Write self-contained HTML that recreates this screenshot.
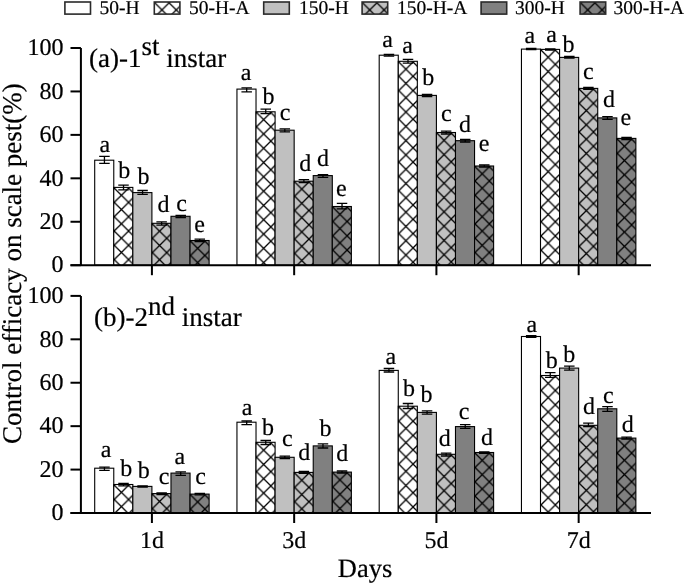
<!DOCTYPE html>
<html><head><meta charset="utf-8"><style>
html,body{margin:0;padding:0;background:#fff;width:685px;height:584px;overflow:hidden}
svg{will-change:transform}
svg text{text-rendering:geometricPrecision;font-family:"Liberation Serif", serif;fill:#000;stroke:#000;stroke-width:0.2px}
</style></head><body>
<svg width="685" height="584" viewBox="0 0 685 584" style="display:block">
<defs>
<pattern id="h1" patternUnits="userSpaceOnUse" x="154.80" y="2.80" width="14.3" height="14.3"><rect width="14.3" height="14.3" fill="#ffffff"/><path d="M0 0L14.3 14.3M14.3 0L0 14.3M-1 13.3L1 15.3M13.3 -1L15.3 1M-1 1L1 -1M13.3 15.3L15.3 13.3" stroke="#000" stroke-width="1.3" fill="none"/></pattern>
<pattern id="h2" patternUnits="userSpaceOnUse" x="362.60" y="2.80" width="14.3" height="14.3"><rect width="14.3" height="14.3" fill="#c0c0c0"/><path d="M0 0L14.3 14.3M14.3 0L0 14.3M-1 13.3L1 15.3M13.3 -1L15.3 1M-1 1L1 -1M13.3 15.3L15.3 13.3" stroke="#000" stroke-width="1.3" fill="none"/></pattern>
<pattern id="h3" patternUnits="userSpaceOnUse" x="580.60" y="2.80" width="14.3" height="14.3"><rect width="14.3" height="14.3" fill="#808080"/><path d="M0 0L14.3 14.3M14.3 0L0 14.3M-1 13.3L1 15.3M13.3 -1L15.3 1M-1 1L1 -1M13.3 15.3L15.3 13.3" stroke="#000" stroke-width="1.3" fill="none"/></pattern>
<pattern id="h4" patternUnits="userSpaceOnUse" x="114.27" y="188.10" width="14.3" height="14.3"><rect width="14.3" height="14.3" fill="#ffffff"/><path d="M0 0L14.3 14.3M14.3 0L0 14.3M-1 13.3L1 15.3M13.3 -1L15.3 1M-1 1L1 -1M13.3 15.3L15.3 13.3" stroke="#000" stroke-width="1.3" fill="none"/></pattern>
<pattern id="h5" patternUnits="userSpaceOnUse" x="152.41" y="224.00" width="14.3" height="14.3"><rect width="14.3" height="14.3" fill="#c0c0c0"/><path d="M0 0L14.3 14.3M14.3 0L0 14.3M-1 13.3L1 15.3M13.3 -1L15.3 1M-1 1L1 -1M13.3 15.3L15.3 13.3" stroke="#000" stroke-width="1.3" fill="none"/></pattern>
<pattern id="h6" patternUnits="userSpaceOnUse" x="190.55" y="241.20" width="14.3" height="14.3"><rect width="14.3" height="14.3" fill="#808080"/><path d="M0 0L14.3 14.3M14.3 0L0 14.3M-1 13.3L1 15.3M13.3 -1L15.3 1M-1 1L1 -1M13.3 15.3L15.3 13.3" stroke="#000" stroke-width="1.3" fill="none"/></pattern>
<pattern id="h7" patternUnits="userSpaceOnUse" x="256.52" y="112.50" width="14.3" height="14.3"><rect width="14.3" height="14.3" fill="#ffffff"/><path d="M0 0L14.3 14.3M14.3 0L0 14.3M-1 13.3L1 15.3M13.3 -1L15.3 1M-1 1L1 -1M13.3 15.3L15.3 13.3" stroke="#000" stroke-width="1.3" fill="none"/></pattern>
<pattern id="h8" patternUnits="userSpaceOnUse" x="294.66" y="181.90" width="14.3" height="14.3"><rect width="14.3" height="14.3" fill="#c0c0c0"/><path d="M0 0L14.3 14.3M14.3 0L0 14.3M-1 13.3L1 15.3M13.3 -1L15.3 1M-1 1L1 -1M13.3 15.3L15.3 13.3" stroke="#000" stroke-width="1.3" fill="none"/></pattern>
<pattern id="h9" patternUnits="userSpaceOnUse" x="332.80" y="207.20" width="14.3" height="14.3"><rect width="14.3" height="14.3" fill="#808080"/><path d="M0 0L14.3 14.3M14.3 0L0 14.3M-1 13.3L1 15.3M13.3 -1L15.3 1M-1 1L1 -1M13.3 15.3L15.3 13.3" stroke="#000" stroke-width="1.3" fill="none"/></pattern>
<pattern id="h10" patternUnits="userSpaceOnUse" x="398.77" y="62.00" width="14.3" height="14.3"><rect width="14.3" height="14.3" fill="#ffffff"/><path d="M0 0L14.3 14.3M14.3 0L0 14.3M-1 13.3L1 15.3M13.3 -1L15.3 1M-1 1L1 -1M13.3 15.3L15.3 13.3" stroke="#000" stroke-width="1.3" fill="none"/></pattern>
<pattern id="h11" patternUnits="userSpaceOnUse" x="436.91" y="133.20" width="14.3" height="14.3"><rect width="14.3" height="14.3" fill="#c0c0c0"/><path d="M0 0L14.3 14.3M14.3 0L0 14.3M-1 13.3L1 15.3M13.3 -1L15.3 1M-1 1L1 -1M13.3 15.3L15.3 13.3" stroke="#000" stroke-width="1.3" fill="none"/></pattern>
<pattern id="h12" patternUnits="userSpaceOnUse" x="475.05" y="166.70" width="14.3" height="14.3"><rect width="14.3" height="14.3" fill="#808080"/><path d="M0 0L14.3 14.3M14.3 0L0 14.3M-1 13.3L1 15.3M13.3 -1L15.3 1M-1 1L1 -1M13.3 15.3L15.3 13.3" stroke="#000" stroke-width="1.3" fill="none"/></pattern>
<pattern id="h13" patternUnits="userSpaceOnUse" x="541.02" y="50.10" width="14.3" height="14.3"><rect width="14.3" height="14.3" fill="#ffffff"/><path d="M0 0L14.3 14.3M14.3 0L0 14.3M-1 13.3L1 15.3M13.3 -1L15.3 1M-1 1L1 -1M13.3 15.3L15.3 13.3" stroke="#000" stroke-width="1.3" fill="none"/></pattern>
<pattern id="h14" patternUnits="userSpaceOnUse" x="579.16" y="89.10" width="14.3" height="14.3"><rect width="14.3" height="14.3" fill="#c0c0c0"/><path d="M0 0L14.3 14.3M14.3 0L0 14.3M-1 13.3L1 15.3M13.3 -1L15.3 1M-1 1L1 -1M13.3 15.3L15.3 13.3" stroke="#000" stroke-width="1.3" fill="none"/></pattern>
<pattern id="h15" patternUnits="userSpaceOnUse" x="617.30" y="139.10" width="14.3" height="14.3"><rect width="14.3" height="14.3" fill="#808080"/><path d="M0 0L14.3 14.3M14.3 0L0 14.3M-1 13.3L1 15.3M13.3 -1L15.3 1M-1 1L1 -1M13.3 15.3L15.3 13.3" stroke="#000" stroke-width="1.3" fill="none"/></pattern>
<pattern id="h16" patternUnits="userSpaceOnUse" x="114.27" y="485.20" width="14.3" height="14.3"><rect width="14.3" height="14.3" fill="#ffffff"/><path d="M0 0L14.3 14.3M14.3 0L0 14.3M-1 13.3L1 15.3M13.3 -1L15.3 1M-1 1L1 -1M13.3 15.3L15.3 13.3" stroke="#000" stroke-width="1.3" fill="none"/></pattern>
<pattern id="h17" patternUnits="userSpaceOnUse" x="152.41" y="494.30" width="14.3" height="14.3"><rect width="14.3" height="14.3" fill="#c0c0c0"/><path d="M0 0L14.3 14.3M14.3 0L0 14.3M-1 13.3L1 15.3M13.3 -1L15.3 1M-1 1L1 -1M13.3 15.3L15.3 13.3" stroke="#000" stroke-width="1.3" fill="none"/></pattern>
<pattern id="h18" patternUnits="userSpaceOnUse" x="190.55" y="494.80" width="14.3" height="14.3"><rect width="14.3" height="14.3" fill="#808080"/><path d="M0 0L14.3 14.3M14.3 0L0 14.3M-1 13.3L1 15.3M13.3 -1L15.3 1M-1 1L1 -1M13.3 15.3L15.3 13.3" stroke="#000" stroke-width="1.3" fill="none"/></pattern>
<pattern id="h19" patternUnits="userSpaceOnUse" x="256.52" y="443.00" width="14.3" height="14.3"><rect width="14.3" height="14.3" fill="#ffffff"/><path d="M0 0L14.3 14.3M14.3 0L0 14.3M-1 13.3L1 15.3M13.3 -1L15.3 1M-1 1L1 -1M13.3 15.3L15.3 13.3" stroke="#000" stroke-width="1.3" fill="none"/></pattern>
<pattern id="h20" patternUnits="userSpaceOnUse" x="294.66" y="473.10" width="14.3" height="14.3"><rect width="14.3" height="14.3" fill="#c0c0c0"/><path d="M0 0L14.3 14.3M14.3 0L0 14.3M-1 13.3L1 15.3M13.3 -1L15.3 1M-1 1L1 -1M13.3 15.3L15.3 13.3" stroke="#000" stroke-width="1.3" fill="none"/></pattern>
<pattern id="h21" patternUnits="userSpaceOnUse" x="332.80" y="472.80" width="14.3" height="14.3"><rect width="14.3" height="14.3" fill="#808080"/><path d="M0 0L14.3 14.3M14.3 0L0 14.3M-1 13.3L1 15.3M13.3 -1L15.3 1M-1 1L1 -1M13.3 15.3L15.3 13.3" stroke="#000" stroke-width="1.3" fill="none"/></pattern>
<pattern id="h22" patternUnits="userSpaceOnUse" x="398.77" y="406.90" width="14.3" height="14.3"><rect width="14.3" height="14.3" fill="#ffffff"/><path d="M0 0L14.3 14.3M14.3 0L0 14.3M-1 13.3L1 15.3M13.3 -1L15.3 1M-1 1L1 -1M13.3 15.3L15.3 13.3" stroke="#000" stroke-width="1.3" fill="none"/></pattern>
<pattern id="h23" patternUnits="userSpaceOnUse" x="436.91" y="455.00" width="14.3" height="14.3"><rect width="14.3" height="14.3" fill="#c0c0c0"/><path d="M0 0L14.3 14.3M14.3 0L0 14.3M-1 13.3L1 15.3M13.3 -1L15.3 1M-1 1L1 -1M13.3 15.3L15.3 13.3" stroke="#000" stroke-width="1.3" fill="none"/></pattern>
<pattern id="h24" patternUnits="userSpaceOnUse" x="475.05" y="453.20" width="14.3" height="14.3"><rect width="14.3" height="14.3" fill="#808080"/><path d="M0 0L14.3 14.3M14.3 0L0 14.3M-1 13.3L1 15.3M13.3 -1L15.3 1M-1 1L1 -1M13.3 15.3L15.3 13.3" stroke="#000" stroke-width="1.3" fill="none"/></pattern>
<pattern id="h25" patternUnits="userSpaceOnUse" x="541.02" y="376.20" width="14.3" height="14.3"><rect width="14.3" height="14.3" fill="#ffffff"/><path d="M0 0L14.3 14.3M14.3 0L0 14.3M-1 13.3L1 15.3M13.3 -1L15.3 1M-1 1L1 -1M13.3 15.3L15.3 13.3" stroke="#000" stroke-width="1.3" fill="none"/></pattern>
<pattern id="h26" patternUnits="userSpaceOnUse" x="579.16" y="426.00" width="14.3" height="14.3"><rect width="14.3" height="14.3" fill="#c0c0c0"/><path d="M0 0L14.3 14.3M14.3 0L0 14.3M-1 13.3L1 15.3M13.3 -1L15.3 1M-1 1L1 -1M13.3 15.3L15.3 13.3" stroke="#000" stroke-width="1.3" fill="none"/></pattern>
<pattern id="h27" patternUnits="userSpaceOnUse" x="617.30" y="438.80" width="14.3" height="14.3"><rect width="14.3" height="14.3" fill="#808080"/><path d="M0 0L14.3 14.3M14.3 0L0 14.3M-1 13.3L1 15.3M13.3 -1L15.3 1M-1 1L1 -1M13.3 15.3L15.3 13.3" stroke="#000" stroke-width="1.3" fill="none"/></pattern>
</defs>
<rect x="64.90" y="2.0" width="25.6" height="12.1" fill="#ffffff" stroke="#2a2a2a" stroke-width="1.6"/>
<text x="99.50" y="14.3" font-size="19.5">50-H</text>
<rect x="154.30" y="2.0" width="25.6" height="12.1" fill="url(#h1)" stroke="#2a2a2a" stroke-width="1.6"/>
<text x="188.90" y="14.3" font-size="19.5">50-H-A</text>
<rect x="263.70" y="2.0" width="25.6" height="12.1" fill="#c0c0c0" stroke="#2a2a2a" stroke-width="1.6"/>
<text x="299.10" y="14.3" font-size="19.5">150-H</text>
<rect x="362.10" y="2.0" width="25.6" height="12.1" fill="url(#h2)" stroke="#2a2a2a" stroke-width="1.6"/>
<text x="396.90" y="14.3" font-size="19.5">150-H-A</text>
<rect x="481.10" y="2.0" width="25.6" height="12.1" fill="#808080" stroke="#2a2a2a" stroke-width="1.6"/>
<text x="515.10" y="14.3" font-size="19.5">300-H</text>
<rect x="580.10" y="2.0" width="25.6" height="12.1" fill="url(#h3)" stroke="#2a2a2a" stroke-width="1.6"/>
<text x="613.60" y="14.3" font-size="19.5">300-H-A</text>
<rect x="94.70" y="160.20" width="19.07" height="105.00" fill="#ffffff" stroke="#000" stroke-width="1.1"/>
<path d="M99.19 156.40H109.69M99.19 163.40H109.69M104.44 156.40V163.40" stroke="#000" stroke-width="1.3" fill="none"/>
<text x="104.90" y="151.70" font-size="24" text-anchor="middle">a</text>
<rect x="113.77" y="187.40" width="19.07" height="77.80" fill="url(#h4)" stroke="#000" stroke-width="1.1"/>
<path d="M118.26 185.20H128.75M118.26 189.80H128.75M123.51 185.20V189.80" stroke="#000" stroke-width="1.3" fill="none"/>
<text x="124.20" y="178.00" font-size="24" text-anchor="middle">b</text>
<rect x="132.84" y="192.60" width="19.07" height="72.60" fill="#c0c0c0" stroke="#000" stroke-width="1.1"/>
<path d="M137.32 190.50H147.82M137.32 194.40H147.82M142.57 190.50V194.40" stroke="#000" stroke-width="1.3" fill="none"/>
<text x="143.50" y="184.10" font-size="24" text-anchor="middle">b</text>
<rect x="151.91" y="223.30" width="19.07" height="41.90" fill="url(#h5)" stroke="#000" stroke-width="1.1"/>
<path d="M156.39 221.90H166.89M156.39 225.20H166.89M161.64 221.90V225.20" stroke="#000" stroke-width="1.3" fill="none"/>
<text x="163.60" y="211.50" font-size="24" text-anchor="middle">d</text>
<rect x="170.98" y="216.30" width="19.07" height="48.90" fill="#808080" stroke="#000" stroke-width="1.1"/>
<path d="M175.47 215.40H185.97M175.47 217.60H185.97M180.72 215.40V217.60" stroke="#000" stroke-width="1.3" fill="none"/>
<text x="181.60" y="210.80" font-size="24" text-anchor="middle">c</text>
<rect x="190.05" y="240.50" width="19.07" height="24.70" fill="url(#h6)" stroke="#000" stroke-width="1.1"/>
<path d="M194.53 239.10H205.03M194.53 241.50H205.03M199.78 239.10V241.50" stroke="#000" stroke-width="1.3" fill="none"/>
<text x="199.60" y="232.10" font-size="24" text-anchor="middle">e</text>
<rect x="236.95" y="89.10" width="19.07" height="176.10" fill="#ffffff" stroke="#000" stroke-width="1.1"/>
<path d="M241.43 87.80H251.93M241.43 91.80H251.93M246.68 87.80V91.80" stroke="#000" stroke-width="1.3" fill="none"/>
<text x="246.00" y="80.00" font-size="24" text-anchor="middle">a</text>
<rect x="256.02" y="111.80" width="19.07" height="153.40" fill="url(#h7)" stroke="#000" stroke-width="1.1"/>
<path d="M260.50 109.10H271.00M260.50 113.70H271.00M265.75 109.10V113.70" stroke="#000" stroke-width="1.3" fill="none"/>
<text x="268.40" y="104.10" font-size="24" text-anchor="middle">b</text>
<rect x="275.09" y="130.20" width="19.07" height="135.00" fill="#c0c0c0" stroke="#000" stroke-width="1.1"/>
<path d="M279.57 128.80H290.07M279.57 131.90H290.07M284.82 128.80V131.90" stroke="#000" stroke-width="1.3" fill="none"/>
<text x="285.00" y="119.70" font-size="24" text-anchor="middle">c</text>
<rect x="294.16" y="181.20" width="19.07" height="84.00" fill="url(#h8)" stroke="#000" stroke-width="1.1"/>
<path d="M298.64 179.70H309.14M298.64 182.60H309.14M303.89 179.70V182.60" stroke="#000" stroke-width="1.3" fill="none"/>
<text x="305.30" y="171.00" font-size="24" text-anchor="middle">d</text>
<rect x="313.23" y="175.60" width="19.07" height="89.60" fill="#808080" stroke="#000" stroke-width="1.1"/>
<path d="M317.72 174.60H328.22M317.72 177.30H328.22M322.97 174.60V177.30" stroke="#000" stroke-width="1.3" fill="none"/>
<text x="323.00" y="166.40" font-size="24" text-anchor="middle">d</text>
<rect x="332.30" y="206.50" width="19.07" height="58.70" fill="url(#h9)" stroke="#000" stroke-width="1.1"/>
<path d="M336.78 203.30H347.28M336.78 208.90H347.28M342.03 203.30V208.90" stroke="#000" stroke-width="1.3" fill="none"/>
<text x="341.30" y="196.40" font-size="24" text-anchor="middle">e</text>
<rect x="379.20" y="55.20" width="19.07" height="210.00" fill="#ffffff" stroke="#000" stroke-width="1.1"/>
<path d="M383.69 54.30H394.19M383.69 56.20H394.19M388.94 54.30V56.20" stroke="#000" stroke-width="1.3" fill="none"/>
<text x="387.50" y="46.70" font-size="24" text-anchor="middle">a</text>
<rect x="398.27" y="61.30" width="19.07" height="203.90" fill="url(#h10)" stroke="#000" stroke-width="1.1"/>
<path d="M402.75 59.40H413.25M402.75 63.10H413.25M408.00 59.40V63.10" stroke="#000" stroke-width="1.3" fill="none"/>
<text x="407.60" y="52.90" font-size="24" text-anchor="middle">a</text>
<rect x="417.34" y="95.40" width="19.07" height="169.80" fill="#c0c0c0" stroke="#000" stroke-width="1.1"/>
<path d="M421.82 94.30H432.32M421.82 96.50H432.32M427.07 94.30V96.50" stroke="#000" stroke-width="1.3" fill="none"/>
<text x="428.30" y="85.30" font-size="24" text-anchor="middle">b</text>
<rect x="436.41" y="132.50" width="19.07" height="132.70" fill="url(#h11)" stroke="#000" stroke-width="1.1"/>
<path d="M440.89 131.20H451.39M440.89 134.00H451.39M446.14 131.20V134.00" stroke="#000" stroke-width="1.3" fill="none"/>
<text x="446.30" y="121.30" font-size="24" text-anchor="middle">c</text>
<rect x="455.48" y="140.70" width="19.07" height="124.50" fill="#808080" stroke="#000" stroke-width="1.1"/>
<path d="M459.97 139.50H470.47M459.97 142.00H470.47M465.22 139.50V142.00" stroke="#000" stroke-width="1.3" fill="none"/>
<text x="465.00" y="131.60" font-size="24" text-anchor="middle">d</text>
<rect x="474.55" y="166.00" width="19.07" height="99.20" fill="url(#h12)" stroke="#000" stroke-width="1.1"/>
<path d="M479.03 165.00H489.53M479.03 167.00H489.53M484.28 165.00V167.00" stroke="#000" stroke-width="1.3" fill="none"/>
<text x="484.00" y="151.30" font-size="24" text-anchor="middle">e</text>
<rect x="521.45" y="49.10" width="19.07" height="216.10" fill="#ffffff" stroke="#000" stroke-width="1.1"/>
<path d="M525.94 48.50H536.44M525.94 49.50H536.44M531.19 48.50V49.50" stroke="#000" stroke-width="1.3" fill="none"/>
<text x="529.80" y="42.60" font-size="24" text-anchor="middle">a</text>
<rect x="540.52" y="49.40" width="19.07" height="215.80" fill="url(#h13)" stroke="#000" stroke-width="1.1"/>
<path d="M545.01 48.80H555.51M545.01 50.00H555.51M550.26 48.80V50.00" stroke="#000" stroke-width="1.3" fill="none"/>
<text x="551.60" y="41.90" font-size="24" text-anchor="middle">a</text>
<rect x="559.59" y="57.40" width="19.07" height="207.80" fill="#c0c0c0" stroke="#000" stroke-width="1.1"/>
<path d="M564.08 56.50H574.58M564.08 58.00H574.58M569.33 56.50V58.00" stroke="#000" stroke-width="1.3" fill="none"/>
<text x="568.50" y="51.80" font-size="24" text-anchor="middle">b</text>
<rect x="578.66" y="88.40" width="19.07" height="176.80" fill="url(#h14)" stroke="#000" stroke-width="1.1"/>
<path d="M583.15 87.30H593.65M583.15 89.30H593.65M588.40 87.30V89.30" stroke="#000" stroke-width="1.3" fill="none"/>
<text x="588.30" y="78.50" font-size="24" text-anchor="middle">c</text>
<rect x="597.73" y="117.90" width="19.07" height="147.30" fill="#808080" stroke="#000" stroke-width="1.1"/>
<path d="M602.22 116.60H612.72M602.22 119.40H612.72M607.47 116.60V119.40" stroke="#000" stroke-width="1.3" fill="none"/>
<text x="609.00" y="106.60" font-size="24" text-anchor="middle">d</text>
<rect x="616.80" y="138.40" width="19.07" height="126.80" fill="url(#h15)" stroke="#000" stroke-width="1.1"/>
<path d="M621.29 137.30H631.79M621.29 139.50H631.79M626.54 137.30V139.50" stroke="#000" stroke-width="1.3" fill="none"/>
<text x="625.90" y="125.20" font-size="24" text-anchor="middle">e</text>
<path d="M80.9 48.0V265.2M70.5 265.2H651.0" stroke="#000" stroke-width="2" fill="none"/>
<path d="M70.5 265.20H80.9" stroke="#000" stroke-width="2"/>
<text x="63.50" y="272.40" font-size="24" text-anchor="end">0</text>
<path d="M70.5 221.76H80.9" stroke="#000" stroke-width="2"/>
<text x="63.50" y="228.96" font-size="24" text-anchor="end">20</text>
<path d="M70.5 178.32H80.9" stroke="#000" stroke-width="2"/>
<text x="63.50" y="185.52" font-size="24" text-anchor="end">40</text>
<path d="M70.5 134.88H80.9" stroke="#000" stroke-width="2"/>
<text x="63.50" y="142.08" font-size="24" text-anchor="end">60</text>
<path d="M70.5 91.44H80.9" stroke="#000" stroke-width="2"/>
<text x="63.50" y="98.64" font-size="24" text-anchor="end">80</text>
<path d="M70.5 48.00H80.9" stroke="#000" stroke-width="2"/>
<text x="63.50" y="55.20" font-size="24" text-anchor="end">100</text>
<path d="M151.91 265.2V275.2" stroke="#000" stroke-width="2"/>
<path d="M294.16 265.2V275.2" stroke="#000" stroke-width="2"/>
<path d="M436.41 265.2V275.2" stroke="#000" stroke-width="2"/>
<path d="M578.66 265.2V275.2" stroke="#000" stroke-width="2"/>
<rect x="94.70" y="468.20" width="19.07" height="44.80" fill="#ffffff" stroke="#000" stroke-width="1.1"/>
<path d="M99.19 467.20H109.69M99.19 470.30H109.69M104.44 467.20V470.30" stroke="#000" stroke-width="1.3" fill="none"/>
<text x="106.20" y="457.10" font-size="24" text-anchor="middle">a</text>
<rect x="113.77" y="484.50" width="19.07" height="28.50" fill="url(#h16)" stroke="#000" stroke-width="1.1"/>
<path d="M118.26 483.30H128.75M118.26 485.90H128.75M123.51 483.30V485.90" stroke="#000" stroke-width="1.3" fill="none"/>
<text x="126.20" y="475.50" font-size="24" text-anchor="middle">b</text>
<rect x="132.84" y="486.40" width="19.07" height="26.60" fill="#c0c0c0" stroke="#000" stroke-width="1.1"/>
<path d="M137.32 485.80H147.82M137.32 487.20H147.82M142.57 485.80V487.20" stroke="#000" stroke-width="1.3" fill="none"/>
<text x="143.80" y="477.70" font-size="24" text-anchor="middle">b</text>
<rect x="151.91" y="493.60" width="19.07" height="19.40" fill="url(#h17)" stroke="#000" stroke-width="1.1"/>
<path d="M156.39 492.80H166.89M156.39 494.50H166.89M161.64 492.80V494.50" stroke="#000" stroke-width="1.3" fill="none"/>
<text x="164.20" y="484.00" font-size="24" text-anchor="middle">c</text>
<rect x="170.98" y="473.10" width="19.07" height="39.90" fill="#808080" stroke="#000" stroke-width="1.1"/>
<path d="M175.47 471.80H185.97M175.47 475.40H185.97M180.72 471.80V475.40" stroke="#000" stroke-width="1.3" fill="none"/>
<text x="179.80" y="464.30" font-size="24" text-anchor="middle">a</text>
<rect x="190.05" y="494.10" width="19.07" height="18.90" fill="url(#h18)" stroke="#000" stroke-width="1.1"/>
<path d="M194.53 493.30H205.03M194.53 494.80H205.03M199.78 493.30V494.80" stroke="#000" stroke-width="1.3" fill="none"/>
<text x="200.70" y="484.00" font-size="24" text-anchor="middle">c</text>
<rect x="236.95" y="422.20" width="19.07" height="90.80" fill="#ffffff" stroke="#000" stroke-width="1.1"/>
<path d="M241.43 421.00H251.93M241.43 424.60H251.93M246.68 421.00V424.60" stroke="#000" stroke-width="1.3" fill="none"/>
<text x="247.00" y="415.30" font-size="24" text-anchor="middle">a</text>
<rect x="256.02" y="442.30" width="19.07" height="70.70" fill="url(#h19)" stroke="#000" stroke-width="1.1"/>
<path d="M260.50 440.50H271.00M260.50 444.50H271.00M265.75 440.50V444.50" stroke="#000" stroke-width="1.3" fill="none"/>
<text x="268.00" y="435.10" font-size="24" text-anchor="middle">b</text>
<rect x="275.09" y="457.30" width="19.07" height="55.70" fill="#c0c0c0" stroke="#000" stroke-width="1.1"/>
<path d="M279.57 456.20H290.07M279.57 458.50H290.07M284.82 456.20V458.50" stroke="#000" stroke-width="1.3" fill="none"/>
<text x="287.30" y="446.40" font-size="24" text-anchor="middle">c</text>
<rect x="294.16" y="472.40" width="19.07" height="40.60" fill="url(#h20)" stroke="#000" stroke-width="1.1"/>
<path d="M298.64 471.30H309.14M298.64 473.40H309.14M303.89 471.30V473.40" stroke="#000" stroke-width="1.3" fill="none"/>
<text x="304.30" y="460.30" font-size="24" text-anchor="middle">d</text>
<rect x="313.23" y="445.90" width="19.07" height="67.10" fill="#808080" stroke="#000" stroke-width="1.1"/>
<path d="M317.72 443.90H328.22M317.72 448.00H328.22M322.97 443.90V448.00" stroke="#000" stroke-width="1.3" fill="none"/>
<text x="325.60" y="435.90" font-size="24" text-anchor="middle">b</text>
<rect x="332.30" y="472.10" width="19.07" height="40.90" fill="url(#h21)" stroke="#000" stroke-width="1.1"/>
<path d="M336.78 471.00H347.28M336.78 473.00H347.28M342.03 471.00V473.00" stroke="#000" stroke-width="1.3" fill="none"/>
<text x="342.20" y="461.30" font-size="24" text-anchor="middle">d</text>
<rect x="379.20" y="370.40" width="19.07" height="142.60" fill="#ffffff" stroke="#000" stroke-width="1.1"/>
<path d="M383.69 368.50H394.19M383.69 372.00H394.19M388.94 368.50V372.00" stroke="#000" stroke-width="1.3" fill="none"/>
<text x="390.90" y="364.20" font-size="24" text-anchor="middle">a</text>
<rect x="398.27" y="406.20" width="19.07" height="106.80" fill="url(#h22)" stroke="#000" stroke-width="1.1"/>
<path d="M402.75 403.50H413.25M402.75 408.50H413.25M408.00 403.50V408.50" stroke="#000" stroke-width="1.3" fill="none"/>
<text x="408.90" y="395.60" font-size="24" text-anchor="middle">b</text>
<rect x="417.34" y="412.40" width="19.07" height="100.60" fill="#c0c0c0" stroke="#000" stroke-width="1.1"/>
<path d="M421.82 410.90H432.32M421.82 414.20H432.32M427.07 410.90V414.20" stroke="#000" stroke-width="1.3" fill="none"/>
<text x="426.50" y="402.20" font-size="24" text-anchor="middle">b</text>
<rect x="436.41" y="454.30" width="19.07" height="58.70" fill="url(#h23)" stroke="#000" stroke-width="1.1"/>
<path d="M440.89 453.20H451.39M440.89 456.00H451.39M446.14 453.20V456.00" stroke="#000" stroke-width="1.3" fill="none"/>
<text x="444.80" y="445.60" font-size="24" text-anchor="middle">d</text>
<rect x="455.48" y="426.60" width="19.07" height="86.40" fill="#808080" stroke="#000" stroke-width="1.1"/>
<path d="M459.97 424.60H470.47M459.97 428.40H470.47M465.22 424.60V428.40" stroke="#000" stroke-width="1.3" fill="none"/>
<text x="464.20" y="419.30" font-size="24" text-anchor="middle">c</text>
<rect x="474.55" y="452.50" width="19.07" height="60.50" fill="url(#h24)" stroke="#000" stroke-width="1.1"/>
<path d="M479.03 451.80H489.53M479.03 453.30H489.53M484.28 451.80V453.30" stroke="#000" stroke-width="1.3" fill="none"/>
<text x="487.10" y="445.20" font-size="24" text-anchor="middle">d</text>
<rect x="521.45" y="336.50" width="19.07" height="176.50" fill="#ffffff" stroke="#000" stroke-width="1.1"/>
<path d="M525.94 335.70H536.44M525.94 337.40H536.44M531.19 335.70V337.40" stroke="#000" stroke-width="1.3" fill="none"/>
<text x="531.80" y="331.90" font-size="24" text-anchor="middle">a</text>
<rect x="540.52" y="375.50" width="19.07" height="137.50" fill="url(#h25)" stroke="#000" stroke-width="1.1"/>
<path d="M545.01 372.70H555.51M545.01 377.30H555.51M550.26 372.70V377.30" stroke="#000" stroke-width="1.3" fill="none"/>
<text x="551.80" y="368.20" font-size="24" text-anchor="middle">b</text>
<rect x="559.59" y="368.10" width="19.07" height="144.90" fill="#c0c0c0" stroke="#000" stroke-width="1.1"/>
<path d="M564.08 366.20H574.58M564.08 370.10H574.58M569.33 366.20V370.10" stroke="#000" stroke-width="1.3" fill="none"/>
<text x="569.20" y="361.50" font-size="24" text-anchor="middle">b</text>
<rect x="578.66" y="425.30" width="19.07" height="87.70" fill="url(#h26)" stroke="#000" stroke-width="1.1"/>
<path d="M583.15 423.10H593.65M583.15 426.70H593.65M588.40 423.10V426.70" stroke="#000" stroke-width="1.3" fill="none"/>
<text x="589.00" y="413.90" font-size="24" text-anchor="middle">d</text>
<rect x="597.73" y="408.80" width="19.07" height="104.20" fill="#808080" stroke="#000" stroke-width="1.1"/>
<path d="M602.22 406.60H612.72M602.22 411.40H612.72M607.47 406.60V411.40" stroke="#000" stroke-width="1.3" fill="none"/>
<text x="608.40" y="403.40" font-size="24" text-anchor="middle">c</text>
<rect x="616.80" y="438.10" width="19.07" height="74.90" fill="url(#h27)" stroke="#000" stroke-width="1.1"/>
<path d="M621.29 437.20H631.79M621.29 439.00H631.79M626.54 437.20V439.00" stroke="#000" stroke-width="1.3" fill="none"/>
<text x="627.80" y="432.10" font-size="24" text-anchor="middle">d</text>
<path d="M80.9 295.9V513.0M70.5 513.0H651.0" stroke="#000" stroke-width="2" fill="none"/>
<path d="M70.5 513.00H80.9" stroke="#000" stroke-width="2"/>
<text x="63.50" y="520.20" font-size="24" text-anchor="end">0</text>
<path d="M70.5 469.58H80.9" stroke="#000" stroke-width="2"/>
<text x="63.50" y="476.78" font-size="24" text-anchor="end">20</text>
<path d="M70.5 426.16H80.9" stroke="#000" stroke-width="2"/>
<text x="63.50" y="433.36" font-size="24" text-anchor="end">40</text>
<path d="M70.5 382.74H80.9" stroke="#000" stroke-width="2"/>
<text x="63.50" y="389.94" font-size="24" text-anchor="end">60</text>
<path d="M70.5 339.32H80.9" stroke="#000" stroke-width="2"/>
<text x="63.50" y="346.52" font-size="24" text-anchor="end">80</text>
<path d="M70.5 295.90H80.9" stroke="#000" stroke-width="2"/>
<text x="63.50" y="303.10" font-size="24" text-anchor="end">100</text>
<path d="M151.91 513.0V523.0" stroke="#000" stroke-width="2"/>
<path d="M294.16 513.0V523.0" stroke="#000" stroke-width="2"/>
<path d="M436.41 513.0V523.0" stroke="#000" stroke-width="2"/>
<path d="M578.66 513.0V523.0" stroke="#000" stroke-width="2"/>
<text x="89" y="66.6" font-size="27">(a)-1<tspan dy="-11.3">st</tspan><tspan dy="11.3"> instar</tspan></text>
<text x="94" y="326.3" font-size="27">(b)-2<tspan dy="-11.3">nd</tspan><tspan dy="11.3"> instar</tspan></text>
<text x="151.91" y="548" font-size="24" text-anchor="middle">1d</text>
<text x="294.16" y="548" font-size="24" text-anchor="middle">3d</text>
<text x="436.41" y="548" font-size="24" text-anchor="middle">5d</text>
<text x="578.66" y="548" font-size="24" text-anchor="middle">7d</text>
<text x="365" y="576.8" font-size="26.5" text-anchor="middle">Days</text>
<text transform="translate(21,263.6) rotate(-90)" font-size="27" text-anchor="middle">Control efficacy on scale pest(%)</text>
</svg>
</body></html>
